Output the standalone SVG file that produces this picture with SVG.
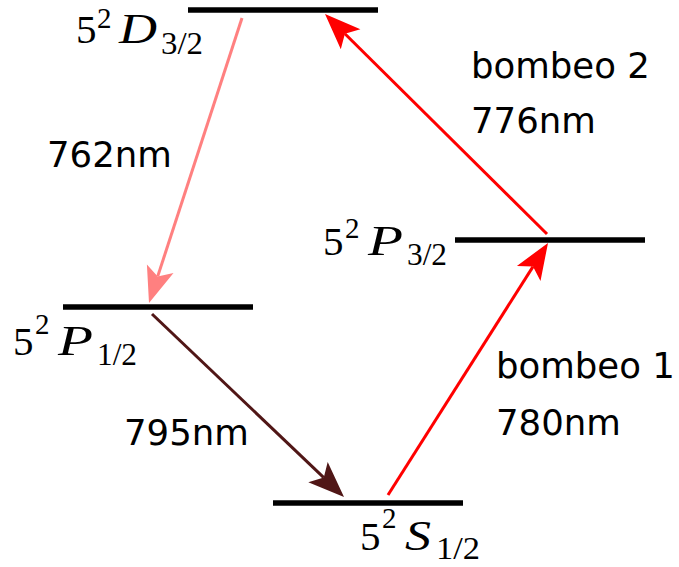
<svg xmlns="http://www.w3.org/2000/svg" width="679" height="567" viewBox="0 0 679 567">
<style>
.lvl{stroke:#000;stroke-width:5.5;fill:none}
.lbl{font-family:"DejaVu Sans","Liberation Sans",sans-serif;font-size:35.5px;fill:#000}
.m{font-family:"Liberation Serif","DejaVu Serif",serif;font-size:41px;fill:#000}
.mi{font-family:"Liberation Serif","DejaVu Serif",serif;font-size:43px;font-style:italic;fill:#000}
.s{font-family:"Liberation Serif","DejaVu Serif",serif;font-size:29px;fill:#000}
.b{font-family:"Liberation Serif","DejaVu Serif",serif;font-size:32px;fill:#000}
</style>
<rect width="679" height="567" fill="#fff"/>
<g id="D32">
<line class="lvl" x1="188" y1="10" x2="378" y2="10"/>
<text class="m" x="76" y="43">5</text><text class="s" x="97" y="28">2</text><text class="mi" x="119" y="43" textLength="38" lengthAdjust="spacingAndGlyphs">D</text><text class="b" x="161" y="54" textLength="42" lengthAdjust="spacingAndGlyphs">3/2</text>
</g>
<g id="P32">
<line class="lvl" x1="455" y1="240" x2="645" y2="240"/>
<text class="m" x="323" y="255">5</text><text class="s" x="345" y="238">2</text><text class="mi" x="368" y="255" textLength="35" lengthAdjust="spacingAndGlyphs">P</text><text class="b" x="407" y="265" textLength="40" lengthAdjust="spacingAndGlyphs">3/2</text>
</g>
<g id="P12">
<line class="lvl" x1="63" y1="307" x2="253" y2="307"/>
<text class="m" x="13" y="355">5</text><text class="s" x="35" y="334">2</text><text class="mi" x="58" y="355" textLength="35" lengthAdjust="spacingAndGlyphs">P</text><text class="b" x="97" y="365" textLength="40" lengthAdjust="spacingAndGlyphs">1/2</text>
</g>
<g id="S12">
<line class="lvl" x1="273" y1="503" x2="463" y2="503"/>
<text class="m" x="360" y="550">5</text><text class="s" x="382" y="528">2</text><text class="mi" x="405" y="550" textLength="26" lengthAdjust="spacingAndGlyphs">S</text><text class="b" x="436" y="559" textLength="44" lengthAdjust="spacingAndGlyphs">1/2</text>
</g>
<g id="connectors">
<line x1="242" y1="18" x2="157.7" y2="276.4" stroke="#ff8080" stroke-width="3"/>
<polygon points="149,303 173.5,273.1 157.7,276.4 146.9,264.4" fill="#ff8080"/>
<line x1="152" y1="314" x2="323.8" y2="477.6" stroke="#501616" stroke-width="3"/>
<polygon points="344,497 308.3,482.2 323.8,477.6 327.7,462" fill="#501616"/>
<line x1="388" y1="495" x2="533" y2="266.6" stroke="#ff0000" stroke-width="3"/>
<polygon points="548,243 540.5,280.9 533,266.6 516.9,265.9" fill="#ff0000"/>
<line x1="547" y1="234" x2="344.9" y2="33.7" stroke="#ff0000" stroke-width="3"/>
<polygon points="325,14 360.4,29.3 344.9,33.7 340.8,49.3" fill="#ff0000"/>
</g>
<g id="labels">
<text class="lbl" x="47" y="167">762nm</text>
<text class="lbl" x="124" y="445">795nm</text>
<text class="lbl" x="471" y="78">bombeo 2</text>
<text class="lbl" x="471" y="133">776nm</text>
<text class="lbl" x="496" y="378">bombeo 1</text>
<text class="lbl" x="496" y="435">780nm</text>
</g>
</svg>
